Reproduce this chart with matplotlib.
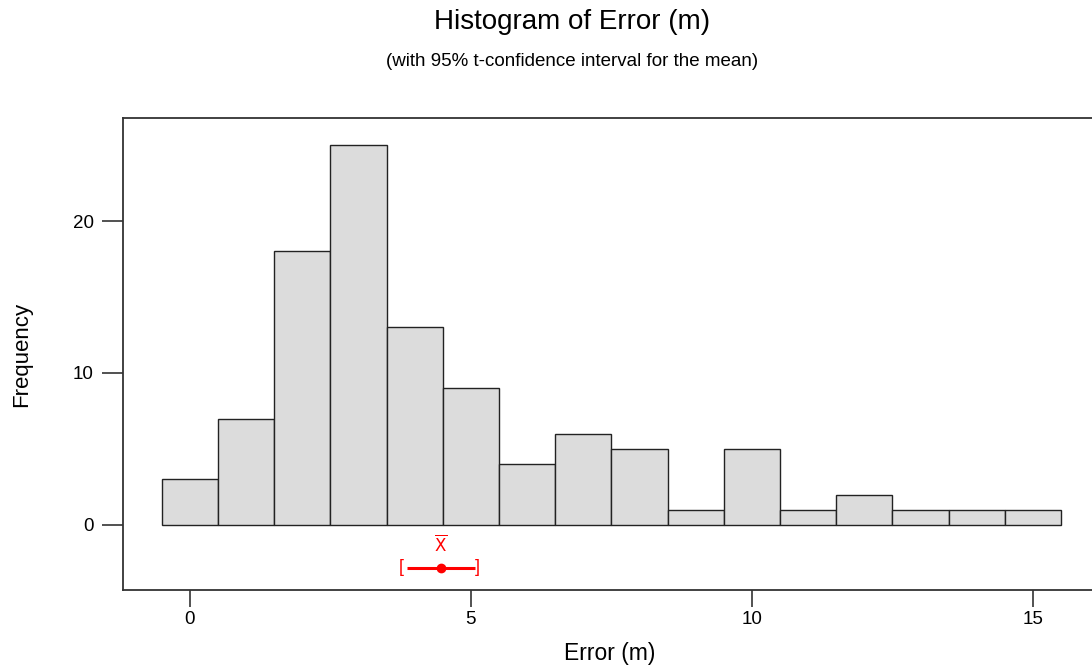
import numpy as np
import matplotlib
matplotlib.use("Agg")
import matplotlib.pyplot as plt

plt.rcParams['font.family'] = ['Liberation Sans', 'DejaVu Sans']

# histogram data (bin midpoints, width 1)
bin_mids = [0, 1, 2, 3, 4, 5, 6, 7, 8, 9, 10, 11, 12, 13, 14, 15]
counts = [3, 7, 18, 25, 13, 9, 4, 6, 5, 1, 5, 1, 2, 1, 1, 1]

# 95% t-confidence interval for the mean
ci_mean = 4.47
ci_low = 3.86
ci_high = 5.08
ci_y = -2.8

xticks = [0, 5, 10, 15]
yticks = [0, 10, 20]

W, H = 1092, 670
fig = plt.figure(figsize=(W / 100, H / 100), dpi=100)
ax = fig.add_axes([123 / W, 1 - 590 / H, (1097 - 123) / W, (590 - 118) / H])

ax.bar(bin_mids, counts, width=1.0, color='#dcdcdc', edgecolor='#222222', linewidth=1.0)

red = '#ff0000'
ax.plot([ci_low, ci_high], [ci_y, ci_y], color=red, lw=2.2, solid_capstyle='butt')
ax.plot([ci_mean], [ci_y], 'o', color=red, ms=6)
ax.text(ci_low - 0.1, ci_y, '[', color=red, ha='center', va='center', fontsize=13)
ax.text(ci_high + 0.03, ci_y, ']', color=red, ha='center', va='center', fontsize=13)
ax.text(ci_mean, ci_y + 1.6, r'$\overline{\mathrm{X}}$', color=red, ha='center', va='center',
        fontsize=12)

ax.set_xlim(-1.19, 16.14)
ax.set_ylim(-4.28, 26.78)
ax.set_xticks(xticks)
ax.set_yticks(yticks)
ax.tick_params(direction='out', width=1.2, labelsize=13.5, color='#333333')
ax.tick_params(axis='x', length=12, pad=3)
ax.tick_params(axis='y', length=15, pad=6)
for sp in ax.spines.values():
    sp.set_linewidth(1.3)
    sp.set_color('#333333')

ax.set_xlabel('Error (m)', fontsize=16.5, labelpad=10)
ax.set_ylabel('Frequency', fontsize=16)
ax.yaxis.set_label_coords((32 - 123) / (1097 - 123), 0.5)

fig.text(572 / W, 1 - 22 / H, 'Histogram of Error (m)', ha='center', va='center', fontsize=20)
fig.text(572 / W, 1 - 62 / H, '(with 95% t-confidence interval for the mean)', ha='center',
         va='center', fontsize=13.5)

fig.savefig('out.png', dpi=100)
